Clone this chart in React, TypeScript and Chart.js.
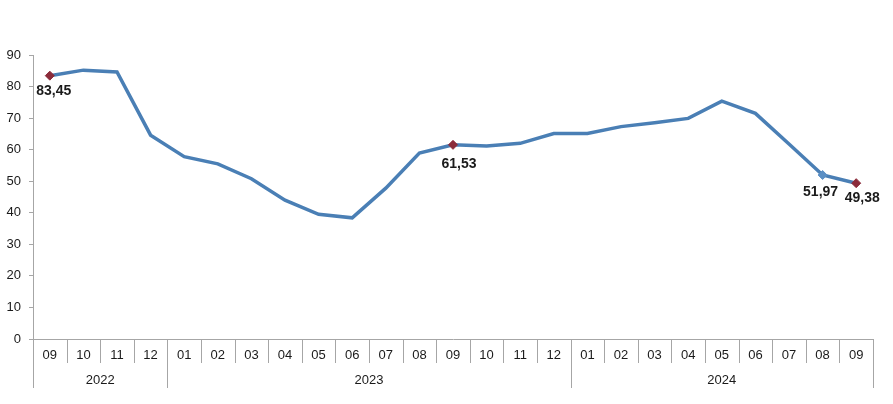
import React, { useEffect, useRef } from "react";
import { Chart, registerables } from "chart.js";

Chart.register(...registerables);

const months = ["09","10","11","12","01","02","03","04","05","06","07","08","09","10","11","12","01","02","03","04","05","06","07","08","09"];
const years = ["2022", "2023", "2024"];
const yearStarts = [0, 4, 16];
const values = [83.45, 85.2, 84.6, 64.6, 57.8, 55.5, 50.8, 44.0, 39.5, 38.4, 47.8, 58.9, 61.53, 61.2, 62.0, 65.1, 65.1, 67.3, 68.5, 69.9, 75.4, 71.5, 61.8, 51.97, 49.38];
const labeledIdx = [0, 12, 23, 24];
const labelTexts = ["83,45", "61,53", "51,97", "49,38"];
const blueMarkerIdx = [23];

const FONT = "'Liberation Sans', Arial, sans-serif";

export default function App() {
  const ref = useRef<HTMLCanvasElement | null>(null);
  useEffect(() => {
    const canvas = ref.current;
    if (!canvas) return;

    const labelOffsets: Record<number, [number, number]> = {
      0: [4, 15],
      12: [6, 19],
      23: [-2, 17],
      24: [6, 15],
    };

    const axisPlugin = {
      id: "multiAxis",
      afterDraw(chart: any) {
        const ctx = chart.ctx;
        const x = chart.scales.x;
        const area = chart.chartArea;
        const step = x.getPixelForValue(1) - x.getPixelForValue(0);
        ctx.save();
        ctx.strokeStyle = "#a6a6a6";
        ctx.lineWidth = 1;
        const yearBounds = [...yearStarts, months.length];
        for (let i = 0; i <= months.length; i++) {
          const px = Math.round(x.getPixelForValue(i) - step / 2) + 0.5;
          const isYear = yearBounds.includes(i);
          ctx.beginPath();
          ctx.moveTo(px, area.bottom);
          ctx.lineTo(px, area.bottom + (isYear ? 49 : 24));
          ctx.stroke();
        }
        ctx.fillStyle = "#1a1a1a";
        ctx.font = `13px ${FONT}`;
        ctx.textAlign = "center";
        ctx.textBaseline = "middle";
        for (let k = 0; k < years.length; k++) {
          const a = x.getPixelForValue(yearBounds[k]) - step / 2;
          const b = x.getPixelForValue(yearBounds[k + 1]) - step / 2;
          ctx.fillText(years[k], (a + b) / 2, area.bottom + 41);
        }
        // data labels
        const meta = chart.getDatasetMeta(0);
        ctx.font = `bold 14px ${FONT}`;
        ctx.fillStyle = "#1a1a1a";
        labeledIdx.forEach((idx, j) => {
          const pt = meta.data[idx];
          const off = labelOffsets[idx] || [0, 16];
          ctx.fillText(labelTexts[j], pt.x + off[0], pt.y + off[1]);
        });
        ctx.restore();
      },
    };

    const chart = new Chart(canvas, {
      type: "line",
      data: {
        labels: months,
        datasets: [
          {
            data: values,
            borderColor: "#4a7fb5",
            borderWidth: 3.5,
            tension: 0,
            pointStyle: "rectRot",
            pointRadius: (c: any) => (labeledIdx.includes(c.dataIndex) ? 4.5 : 0),
            pointHoverRadius: (c: any) => (labeledIdx.includes(c.dataIndex) ? 4.5 : 0),
            pointBackgroundColor: (c: any) => (blueMarkerIdx.includes(c.dataIndex) ? "#5b8fc4" : "#8b2b3a"),
            pointBorderColor: (c: any) => (blueMarkerIdx.includes(c.dataIndex) ? "#5b8fc4" : "#8b2b3a"),
            pointBorderWidth: 1,
          },
        ],
      },
      options: {
        animation: false,
        responsive: false,
        maintainAspectRatio: false,
        layout: { padding: { top: 55, right: 20, left: 0, bottom: 0 } },
        plugins: { legend: { display: false }, tooltip: { enabled: false } },
        scales: {
          x: {
            type: "category",
            offset: true,
            grid: { display: false, drawTicks: false, offset: true },
            border: { display: true, color: "#a6a6a6", width: 1 },
            ticks: {
              color: "#1a1a1a",
              font: { family: FONT, size: 13 },
              padding: 9,
              maxRotation: 0,
              autoSkip: false,
            },
            afterFit: (s: any) => {
              s.height = 65;
            },
          },
          y: {
            min: 0,
            max: 90,
            ticks: {
              stepSize: 10,
              color: "#1a1a1a",
              font: { family: FONT, size: 13 },
              padding: 8,
            },
            grid: { drawOnChartArea: false, drawTicks: true, tickLength: 4, color: "#a6a6a6" },
            border: { display: true, color: "#a6a6a6", width: 1 },
            afterFit: (s: any) => {
              s.width = 33;
            },
          },
        },
      },
      plugins: [axisPlugin],
    } as any);
    return () => chart.destroy();
  }, []);

  return (
    <div style={{ position: "fixed", left: 0, top: 0, width: 893, height: 404, background: "#fff" }}>
      <canvas ref={ref} width={893} height={404} style={{ width: 893, height: 404 }} />
    </div>
  );
}
